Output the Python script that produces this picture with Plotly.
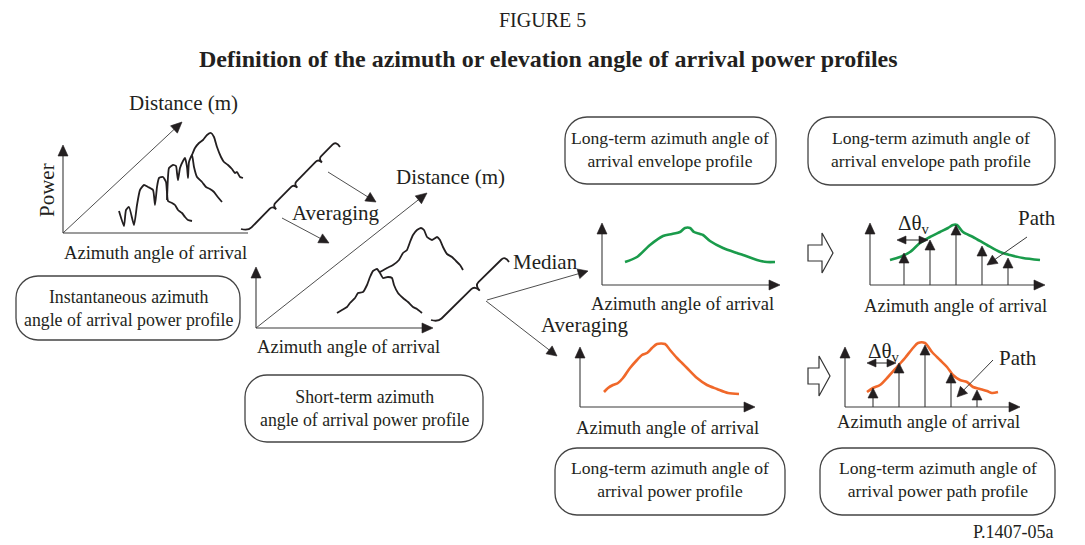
import math
import plotly.graph_objects as go

W, H = 1085, 545
PAGE_MARGIN = 8  # browser default body margin; canvas range is offset so pixels line up
INK = "#231f20"
AXC = "#3a3a3a"
GREEN = "#1a9b4b"
ORANGE = "#f0682a"
SERIF = "Liberation Serif"

# ---------------- data (canvas units) ----------------
# Instantaneous profiles (three snapshots along distance)
inst_a_x = [119, 124, 126, 129, 134, 137, 140, 144, 148, 153, 155, 157, 159, 163, 166, 167, 168, 172, 175, 178, 182, 185, 188, 192]
inst_a_y = [211, 226, 210, 207, 225, 205, 190, 185, 187, 190, 205, 187, 178, 177, 182, 193, 201, 203, 205, 210, 213, 217, 220, 221]
inst_b_x = [167, 168, 169, 173, 176, 177, 178, 180, 183, 185, 187, 188, 189, 192, 194, 197, 202, 206, 210, 214, 217, 222]
inst_b_y = [200, 177, 168, 165, 166, 173, 180, 168, 161, 158, 167, 178, 162, 155, 167, 177, 182, 187, 189, 192, 196, 202]
inst_c_x = [192, 195, 199, 203, 207, 211, 214, 217, 221, 224, 228, 232, 235, 237, 240, 243]
inst_c_y = [155, 148, 143, 140, 135, 133, 137, 147, 157, 162, 165, 169, 173, 172, 177, 178]

# Short-term profiles (two snapshots along distance)
short_a_x = [337, 342, 347, 350, 355, 358, 363, 367, 370, 373, 377, 380, 383, 388, 392, 394, 398, 403, 408, 413, 417, 422]
short_a_y = [313, 310, 307, 303, 298, 293, 292, 285, 277, 271, 269, 273, 278, 277, 278, 285, 293, 298, 302, 307, 309, 313]
short_b_x = [380, 387, 393, 399, 403, 407, 410, 413, 417, 421, 424, 427, 432, 437, 440, 443, 447, 452, 456, 460, 463]
short_b_y = [272, 268, 265, 260, 253, 250, 242, 235, 230, 228, 230, 237, 240, 237, 240, 247, 254, 257, 261, 265, 270]

# Long-term envelope profile (median)
env_x = [625, 637, 650, 663, 672, 680, 685, 690, 694, 700, 703, 710, 723, 737, 743, 757, 767, 775]
env_y = [262, 257, 245, 236, 234, 232, 228, 228, 232, 234, 235, 241, 248, 253, 255, 260, 262, 262]

# Long-term power profile (averaging)
pow_x = [604, 608, 613, 618, 623, 630, 637, 642, 647, 652, 657, 665, 670, 677, 682, 687, 697, 707, 717, 728, 739]
pow_y = [392, 388, 385, 383, 378, 368, 360, 355, 353, 348, 344, 344, 350, 358, 363, 368, 378, 385, 389, 393, 394]

# Envelope path profile
envp_x = [890, 900, 910, 920, 930, 940, 948, 953, 957, 963, 973, 987, 1000, 1010, 1023, 1040]
envp_y = [260, 257, 252, 243, 237, 232, 228, 225, 225, 232, 237, 245, 252, 255, 258, 260]
envp_path_x = [904, 930, 956, 982, 1008]
envp_path_top = [253, 240, 225, 246, 258]

# Power path profile
powp_x = [867, 873, 880, 888, 897, 905, 913, 918, 925, 932, 940, 947, 953, 960, 967, 973, 980, 987, 992, 998]
powp_y = [392, 388, 385, 377, 367, 358, 348, 343, 343, 352, 360, 367, 375, 380, 382, 387, 389, 391, 393, 392]
powp_path_x = [873, 899, 925, 951, 977]
powp_path_top = [388, 363, 345, 373, 390]

# Texts
title_num = "FIGURE 5"
title_txt = "Definition of the azimuth or elevation angle of arrival power profiles"
az_label = "Azimuth angle of arrival"
box_texts = [
    "Instantaneous azimuth<br>angle of arrival power profile",
    "Short-term azimuth<br>angle of arrival power profile",
    "Long-term azimuth angle of<br>arrival envelope profile",
    "Long-term azimuth angle of<br>arrival envelope path profile",
    "Long-term azimuth angle of<br>arrival power profile",
    "Long-term azimuth angle of<br>arrival power path profile",
]
ref_code = "P.1407-05a"

# ---------------- helpers ----------------
shapes = []
annotations = []


def seg(x0, y0, x1, y1, w=1.1, c=AXC):
    shapes.append(dict(type="line", x0=x0, y0=y0, x1=x1, y1=y1,
                       line=dict(color=c, width=w)))


def head(xt, yt, xf, yf, L=11, hw=5, c=INK):
    dx, dy = xt - xf, yt - yf
    n = math.hypot(dx, dy)
    ux, uy = dx / n, dy / n
    bx, by = xt - ux * L, yt - uy * L
    px, py = -uy, ux
    path = (f"M{xt:.2f},{yt:.2f} L{bx + px * hw:.2f},{by + py * hw:.2f} "
            f"L{bx - px * hw:.2f},{by - py * hw:.2f} Z")
    shapes.append(dict(type="path", path=path, fillcolor=c,
                       line=dict(color=c, width=0.6)))


def arrow(x0, y0, x1, y1, w=1.1, c=AXC, L=11, hw=5):
    dx, dy = x1 - x0, y1 - y0
    n = math.hypot(dx, dy)
    ux, uy = dx / n, dy / n
    seg(x0, y0, x1 - ux * L * 0.6, y1 - uy * L * 0.6, w, c)
    head(x1, y1, x0, y0, L, hw)


def rrect(x0, y0, x1, y1, r=22, c="#444444", w=1.3):
    k = 0.5523 * r
    p = (f"M{x0 + r},{y0} L{x1 - r},{y0} C{x1 - r + k},{y0} {x1},{y0 + r - k} {x1},{y0 + r} "
         f"L{x1},{y1 - r} C{x1},{y1 - r + k} {x1 - r + k},{y1} {x1 - r},{y1} "
         f"L{x0 + r},{y1} C{x0 + r - k},{y1} {x0},{y1 - r + k} {x0},{y1 - r} "
         f"L{x0},{y0 + r} C{x0},{y0 + r - k} {x0 + r - k},{y0} {x0 + r},{y0} Z")
    shapes.append(dict(type="path", path=p, line=dict(color=c, width=w),
                       fillcolor="rgba(0,0,0,0)"))


def brace(p0, p1, cusps, tip=6, s=4, w=1.8):
    dx, dy = p1[0] - p0[0], p1[1] - p0[1]
    L = math.hypot(dx, dy)
    d = (dx / L, dy / L)
    n = (-d[1], d[0])
    P = lambda x, y: f"{x:.2f},{y:.2f}"
    sb = (p0[0] - 7, p0[1] - 2)
    path = f"M{P(*sb)} Q{P(*p0)} {P(p0[0] + d[0] * 5, p0[1] + d[1] * 5)}"
    for t in cusps:
        c = (p0[0] + d[0] * L * t, p0[1] + d[1] * L * t)
        a = (c[0] - d[0] * s, c[1] - d[1] * s)
        tp = (c[0] + n[0] * tip, c[1] + n[1] * tip)
        b = (c[0] + d[0] * s, c[1] + d[1] * s)
        path += f" L{P(*a)} Q{P(*c)} {P(*tp)} Q{P(*c)} {P(*b)}"
    e = (p1[0] - d[0] * 5, p1[1] - d[1] * 5)
    path += f" L{P(*e)} Q{P(*p1)} {P(p1[0] + 4, p1[1] + 6)}"
    shapes.append(dict(type="path", path=path, line=dict(color=INK, width=w),
                       fillcolor="rgba(0,0,0,0)"))


def text(x, y, s, size=18.6, bold=False, angle=0, align="center", xanchor="center"):
    annotations.append(dict(x=x, y=y, xref="x", yref="y", text=(f"<b>{s}</b>" if bold else s),
                            showarrow=False, textangle=angle, align=align,
                            xanchor=xanchor, yanchor="middle",
                            font=dict(family=SERIF, size=size, color=INK)))


def hollow_arrow(x0, yc, x1):
    hx = x1 - 11
    p = (f"M{x0},{yc - 8} L{hx},{yc - 8} L{hx},{yc - 20} L{x1},{yc} L{hx},{yc + 20} "
         f"L{hx},{yc + 8} L{x0},{yc + 8} Z")
    shapes.append(dict(type="path", path=p, line=dict(color="#333333", width=1.2),
                       fillcolor="white"))


# ---------------- figure ----------------
fig = go.Figure()


def curve(xs, ys, color=INK, width=1.8, smooth=None):
    ln = dict(color=color, width=width)
    if smooth:
        ln.update(shape="spline", smoothing=smooth)
    fig.add_trace(go.Scatter(x=xs, y=ys, mode="lines", line=ln, hoverinfo="skip"))


curve(inst_a_x, inst_a_y, smooth=0.5)
curve(inst_b_x, inst_b_y, smooth=0.5)
curve(inst_c_x, inst_c_y, smooth=0.5)
curve(short_a_x, short_a_y, smooth=0.4)
curve(short_b_x, short_b_y, smooth=0.4)
curve(env_x, env_y, GREEN, 2.6, 0.8)
curve(pow_x, pow_y, ORANGE, 2.6, 0.8)
curve(envp_x, envp_y, GREEN, 2.6, 0.8)
curve(powp_x, powp_y, ORANGE, 2.6, 0.8)

# Titles
text(542, 20, title_num, size=20)
text(548, 59, title_txt, size=24, bold=True)

# Panel 1: instantaneous
arrow(63, 233, 63, 145)
seg(63, 233, 248, 233)
arrow(63, 233, 182, 122, w=0.9)
text(183, 103, "Distance (m)", size=21)
text(47, 190, "Power", size=21, angle=-90)
text(155, 252, az_label)
rrect(16, 276, 240, 340)
text(128, 308, box_texts[0], size=17.8)

# Brace 1 and averaging arrows
brace((248, 231), (336, 141), [0.28, 0.52, 0.8], tip=5, s=4)
arrow(328, 172, 376, 202, w=0.9, L=10)
arrow(282, 218, 329, 243, w=0.9, L=10)
text(336, 213, "Averaging", size=21)

# Panel 2: short-term
arrow(256, 328, 256, 267)
arrow(256, 328, 433, 328)
arrow(256, 328, 427, 193, w=0.9)
text(450, 177, "Distance (m)", size=21)
text(348, 346, az_label)
rrect(245, 375, 483, 442)
text(364, 408, box_texts[1], size=17.8)

# Brace 2 and median / averaging arrows
brace((438, 322), (505, 256), [0.55], tip=7, s=5)
arrow(487, 300, 588, 271, w=0.9, L=10)
arrow(486, 301, 557, 356, w=0.9, L=10)
text(545, 262, "Median", size=21)
text(585, 325, "Averaging", size=21)

# Panel 3 top: envelope
arrow(602, 285, 602, 223)
arrow(602, 285, 780, 285)
text(682, 303, az_label)
rrect(565, 117, 776, 184)
text(670, 149, box_texts[2], size=17.6)

# Panel 3 bottom: power
arrow(580, 407, 580, 347)
arrow(580, 407, 755, 407)
text(667, 427, az_label)
rrect(555, 448, 785, 515)
text(670, 479, box_texts[4], size=17.6)

# Panel 4 top: envelope path
hollow_arrow(808, 253, 833)
arrow(870, 285, 870, 223)
arrow(870, 285, 1045, 285)
for px, pt in zip(envp_path_x, envp_path_top):
    arrow(px, 285, px, pt, L=10)
arrow(912, 240, 897, 240, w=1.1, L=9, hw=4)
arrow(912, 240, 928, 240, w=1.1, L=9, hw=4)
text(914, 224, "Δθ<sub>v</sub>", size=21)
text(1037, 218, "Path", size=21)
arrow(1027, 237, 987, 265, w=1.0, L=10)
text(955, 305, az_label)
rrect(808, 117, 1055, 185)
text(931, 149, box_texts[3], size=17.6)

# Panel 4 bottom: power path
hollow_arrow(808, 376, 830)
arrow(845, 407, 845, 347)
arrow(845, 407, 1020, 407)
for px, pt in zip(powp_path_x, powp_path_top):
    arrow(px, 407, px, pt, L=10)
arrow(881, 363, 867, 363, w=1.1, L=9, hw=4)
arrow(881, 363, 896, 363, w=1.1, L=9, hw=4)
text(884, 352, "Δθ<sub>v</sub>", size=21)
text(1018, 358, "Path", size=21)
arrow(993, 360, 957, 397, w=1.0, L=10)
text(928, 421, az_label)
rrect(820, 448, 1055, 515)
text(938, 479, box_texts[5], size=17.6)

text(1056, 532, ref_code, size=18, xanchor="right")

m = PAGE_MARGIN
fig.update_layout(
    width=W - m, height=H - m, autosize=False,
    margin=dict(l=0, r=0, t=0, b=0, pad=0),
    paper_bgcolor="white", plot_bgcolor="white",
    showlegend=False,
    xaxis=dict(range=[m, W], visible=False, fixedrange=True),
    yaxis=dict(range=[H, m], visible=False, fixedrange=True),
    shapes=shapes, annotations=annotations,
)

fig.write_html("out.html")
